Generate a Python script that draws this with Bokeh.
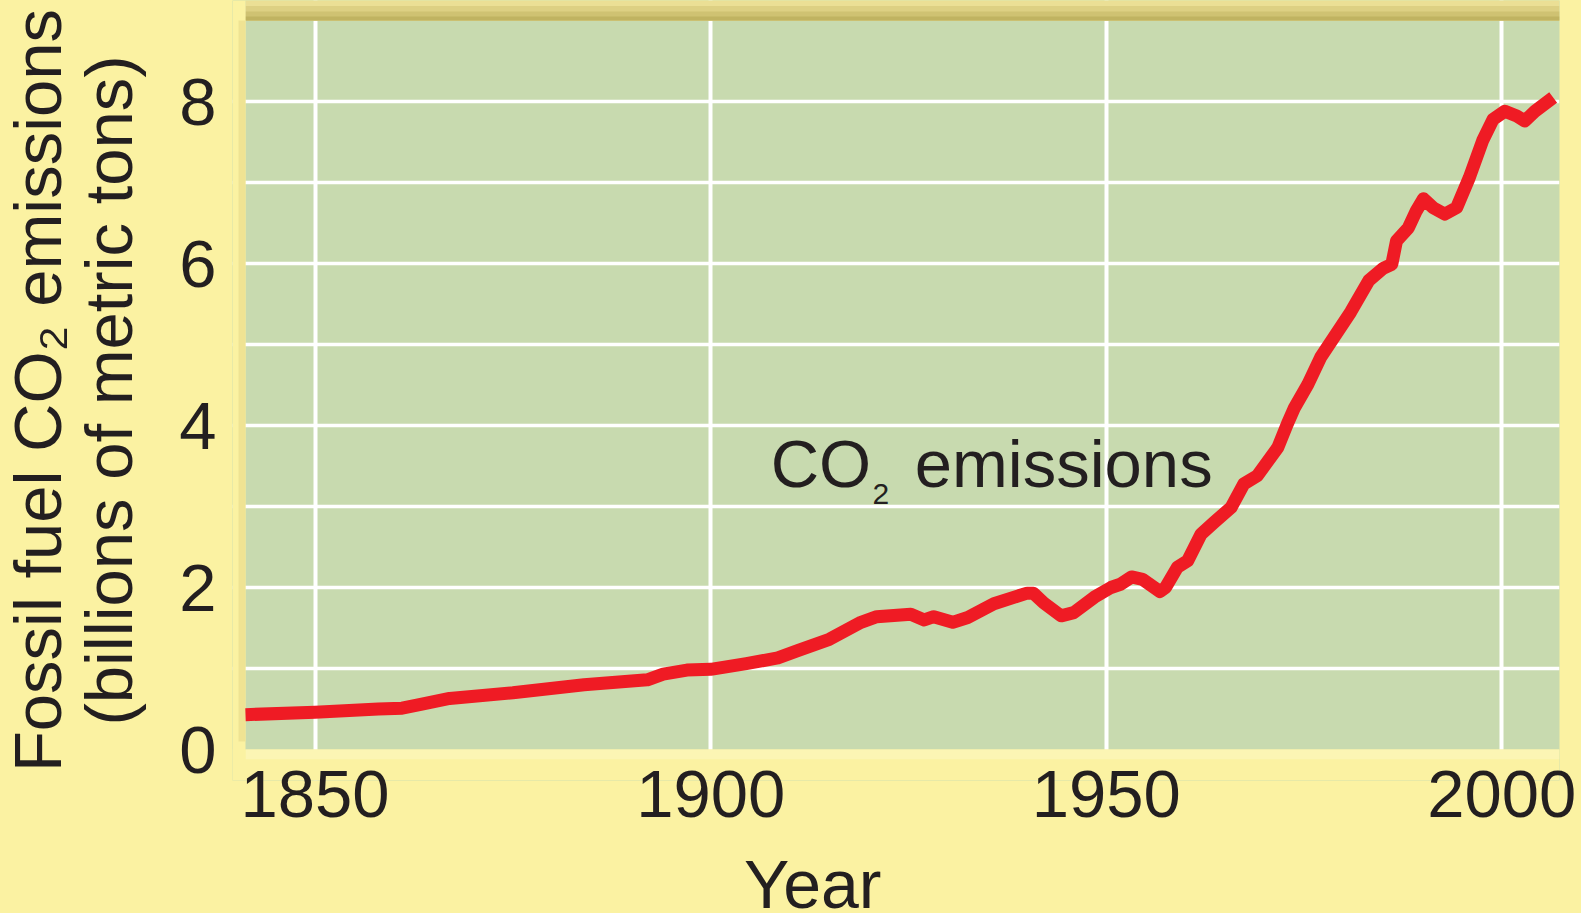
from bokeh.plotting import figure
from bokeh.models import FixedTicker, BoxAnnotation, Range1d, Label, LinearAxis
from bokeh.layouts import row, column
from bokeh.embed import file_html
from bokeh.resources import INLINE

# ---- data ----
years = [1841.2, 1850, 1858, 1861, 1863.5, 1867, 1875, 1884, 1892, 1894, 1897, 1900,
         1904.5, 1908.5, 1911, 1915, 1919, 1921, 1925.3, 1927, 1928.2, 1930.6, 1932.5,
         1935.8, 1940, 1940.8, 1942.1, 1944.3, 1945.9, 1948.5, 1950.6, 1951.8, 1953.2,
         1954.6, 1956.8, 1957.5, 1959, 1960.3, 1962, 1963.6, 1965.8, 1967.4, 1969.1,
         1971.7, 1972.9, 1973.8, 1975.5, 1977.1, 1980.9, 1983.2, 1985, 1986.1, 1986.7,
         1988.2, 1989.2, 1990.1, 1991.3, 1992.8, 1994.3, 1995.9, 1997.6, 1998.9, 2000.4,
         2001.9, 2002.9, 2004.2, 2006.5]
emissions = [0.43, 0.46, 0.50, 0.51, 0.56, 0.63, 0.70, 0.80, 0.86, 0.93, 0.98, 0.99,
             1.06, 1.13, 1.22, 1.36, 1.57, 1.64, 1.67, 1.60, 1.64, 1.57, 1.63,
             1.80, 1.93, 1.93, 1.81, 1.65, 1.69, 1.88, 2.00, 2.04, 2.13,
             2.10, 1.95, 2.00, 2.25, 2.33, 2.66, 2.80, 2.99, 3.28, 3.38,
             3.73, 4.02, 4.22, 4.51, 4.84, 5.40, 5.79, 5.94, 5.99, 6.28,
             6.44, 6.65, 6.80, 6.69, 6.61, 6.69, 7.06, 7.52, 7.78, 7.88,
             7.82, 7.76, 7.88, 8.05]
x_ticks = [1850, 1900, 1950, 2000]
y_ticks = [0, 2, 4, 6, 8]
y_grid_ticks = [1, 2, 3, 4, 5, 6, 7, 8]

x_title = "Year"
y_title_1 = "Fossil fuel CO\u2082 emissions"
y_title_2 = "(billions of metric tons)"
series_label_a = "CO"
series_label_b = "2"
series_label_c = "emissions"

# ---- styling ----
FONT = "Liberation Sans"
TEXT = "#231f20"
YELLOW = "#fbf2a2"
GREEN = "#c8daaf"
RED = "#ef1b24"
FS_PX = 67
SUB_PX = 30
FS = "%dpx" % FS_PX

W, H = 1581, 913
LEFT_W = 150          # strip holding the y title
BOTTOM_H = 60         # strip holding the x title
PPU = 81.0            # pixels per billion tons
FRAME_L, FRAME_R = 232, 1559
ZERO_Y = 749          # pixel row of value 0
FRAME_B = 780         # frame reaches a bit lower (covered in yellow) to centre the y title
X0, X1 = 1841.2, 2007.3          # visible green plot area
PX_PER_YEAR = (FRAME_R - 245) / (X1 - X0)
XS = X0 - (245 - FRAME_L) / PX_PER_YEAR   # frame starts a little left (shadow strip)

x_range = Range1d(XS, X1)
y_range = Range1d(-(FRAME_B - ZERO_Y) / PPU, ZERO_Y / PPU)

# ---- main plot ----
p = figure(width=W - LEFT_W, height=H - BOTTOM_H, output_backend="svg", toolbar_location=None,
           x_range=x_range, y_range=y_range,
           min_border_left=FRAME_L - LEFT_W, min_border_right=W - FRAME_R, min_border_top=0,
           min_border_bottom=(H - BOTTOM_H) - FRAME_B)
p.outline_line_color = None
p.background_fill_color = GREEN
p.border_fill_color = YELLOW

for ax in (p.xaxis, p.yaxis):
    ax.axis_line_color = None
    ax.major_tick_line_color = None
    ax.minor_tick_line_color = None
    ax.major_tick_out = 0
    ax.major_tick_in = 0
    ax.minor_tick_out = 0
    ax.minor_tick_in = 0
    ax.major_label_text_font = FONT
    ax.major_label_text_font_size = FS
    ax.major_label_text_color = TEXT
p.xaxis.ticker = FixedTicker(ticks=x_ticks)
p.yaxis.ticker = FixedTicker(ticks=y_ticks)
p.xaxis.major_label_standoff = 21 - (FRAME_B - ZERO_Y)
p.yaxis.major_label_standoff = 29 - (245 - FRAME_L)

p.xgrid.ticker = FixedTicker(ticks=x_ticks)
p.ygrid.ticker = FixedTicker(ticks=y_grid_ticks)
p.xgrid.grid_line_color = "white"
p.ygrid.grid_line_color = "white"
p.xgrid.grid_line_width = 4
p.ygrid.grid_line_width = 3.5


def box(**kw):
    # drawn in the underlay: above the grid, below the curve and the axis labels
    p.add_layout(BoxAnnotation(level="underlay", fill_alpha=1.0, line_color=None, **kw))


# top shaded band
box(bottom=9.0, left=X0, fill_color="#ebdf95")
box(bottom=9.0, top=9.18, left=X0, fill_color="#ddd083")
box(bottom=9.0, top=9.11, left=X0, fill_color="#cfc272")
box(bottom=9.0, top=9.05, left=X0, fill_color="#c0b361")
# yellow below the panel and a strip with a soft shadow at its left edge
box(top=0, fill_color=YELLOW)
box(top=0, bottom=-0.12, left=X0, fill_color="#fcf5b4")
box(right=X0, fill_color=YELLOW)
box(right=X0, left=X0 - 7 / PX_PER_YEAR, bottom=0.1, top=9.0, fill_color="#efe393")

p.line(years, emissions, line_color=RED, line_width=13, line_join="round", line_cap="butt")


def lab(fig, text, x, y, px, align="left"):
    # Label draws 'alphabetic' text about 0.345 em low; lift it back to the baseline
    fig.add_layout(Label(x=x, y=y, text=text, text_font=FONT, text_font_size="%dpx" % px,
                         text_color=TEXT, text_align=align, text_baseline="alphabetic",
                         y_offset=round(0.345 * px)))


lab(p, series_label_a, 1907.58, 3.25, FS_PX)
lab(p, series_label_b, 1920.45, 3.03, SUB_PX)
lab(p, series_label_c, 1925.8, 3.25, FS_PX)

# ---- left strip: y title as two stacked axis labels ----
lft = figure(width=LEFT_W, height=H - BOTTOM_H, output_backend="svg", toolbar_location=None,
             x_range=Range1d(0, 1), y_range=Range1d(0, 1),
             x_axis_type=None, y_axis_type=None,
             min_border_left=LEFT_W - 2, min_border_right=0, min_border_top=0,
             min_border_bottom=(H - BOTTOM_H) - FRAME_B)
lft.outline_line_color = None
lft.background_fill_color = YELLOW
lft.border_fill_color = YELLOW
lft.grid.visible = False


def title_axis(text, standoff):
    a = LinearAxis(ticker=FixedTicker(ticks=[]), axis_label=text,
                   axis_line_color=None, major_tick_line_color=None,
                   minor_tick_line_color=None, major_tick_out=0, major_tick_in=0,
                   minor_tick_out=0, minor_tick_in=0, major_label_standoff=0,
                   axis_label_standoff=standoff, axis_label_text_font=FONT,
                   axis_label_text_font_size=FS, axis_label_text_color=TEXT,
                   axis_label_text_font_style="normal")
    lft.add_layout(a, "left")


title_axis(y_title_2, 5)
title_axis(y_title_1, -7)

# ---- bottom strip: x title ----
bot = figure(width=W, height=BOTTOM_H, output_backend="svg", toolbar_location=None,
             x_range=x_range, y_range=Range1d(0, BOTTOM_H),
             x_axis_type=None, y_axis_type=None,
             min_border_left=FRAME_L, min_border_right=W - FRAME_R,
             min_border_top=0, min_border_bottom=0)
bot.outline_line_color = None
bot.background_fill_color = YELLOW
bot.border_fill_color = YELLOW
bot.grid.visible = False
lab(bot, x_title, 1912.9, 7, 68, "center")

layout = column(row(lft, p), bot)

html = file_html(layout, INLINE)
html = html.replace("</head>", "<style>html,body{background:%s;}</style></head>" % YELLOW, 1)
open("out.html", "w").write(html)
